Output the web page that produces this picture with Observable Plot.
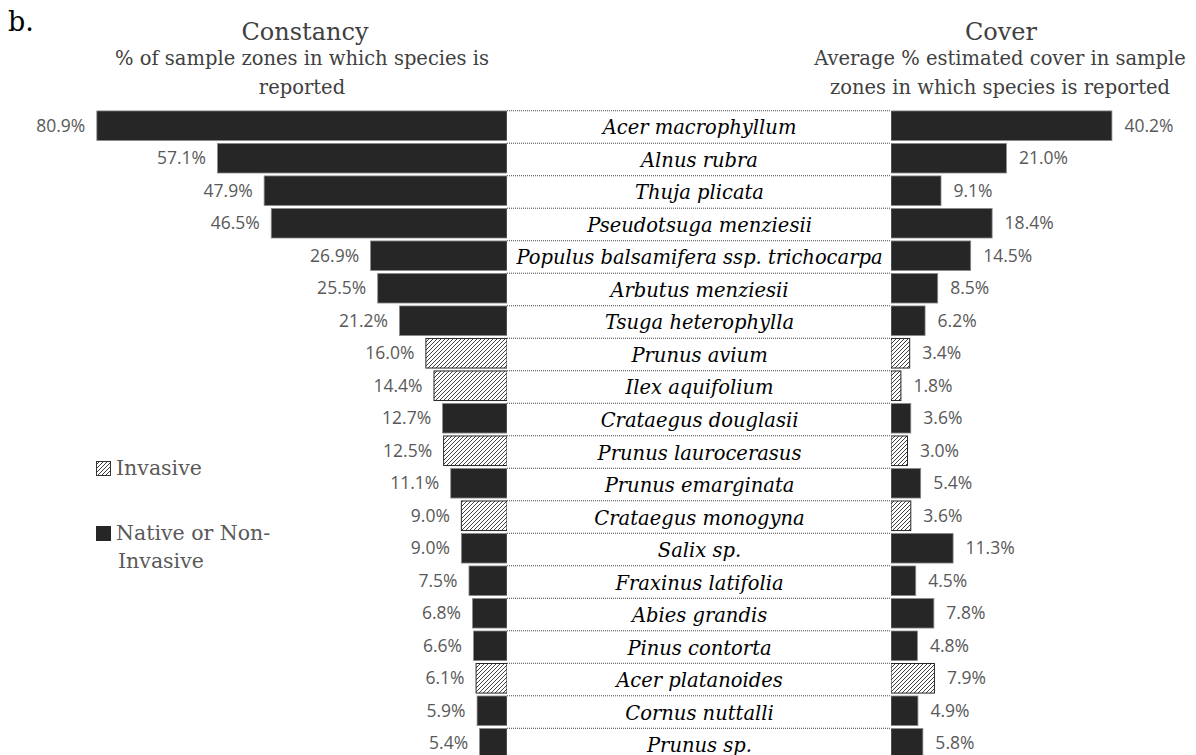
<!DOCTYPE html>
<html><head><meta charset="utf-8">
<script src="https://cdn.jsdelivr.net/npm/d3@7"></script>
<script src="https://cdn.jsdelivr.net/npm/@observablehq/plot@0.6"></script>
<style>
body{margin:0;width:1196px;height:755px;overflow:hidden;position:relative;background:#fff;}
.abs{position:absolute;}
.serif{font-family:"DejaVu Serif",serif;color:#404040;}
.ttl{font-size:24px;line-height:30px;text-align:center;white-space:nowrap;}
.sub{font-size:19.5px;line-height:29px;text-align:center;white-space:nowrap;}
.leg{font-family:"DejaVu Serif",serif;color:#595959;font-size:20.5px;line-height:28px;white-space:nowrap;}
.sw{display:inline-block;width:15px;height:15px;vertical-align:-1px;margin-right:5px;}
</style></head><body>
<svg width="0" height="0" style="position:absolute"><defs>
<pattern id="hatch" patternUnits="userSpaceOnUse" width="4" height="4">
<rect width="4" height="4" fill="#fff"/>
<path d="M-1,1 l2,-2 M0,4 l4,-4 M3,5 l2,-2" stroke="#2a2a2a" stroke-width="0.9"/>
</pattern></defs></svg>

<div class="abs serif" style="left:8px;top:2px;font-size:27px;line-height:40px;color:#000;">b.</div>
<div class="abs serif ttl" style="left:205px;width:200px;top:17px;">Constancy</div>
<div class="abs serif sub" style="left:102px;width:400px;top:44px;">% of sample zones in which species is<br>reported</div>
<div class="abs serif ttl" style="left:901px;width:200px;top:17px;">Cover</div>
<div class="abs serif sub" style="left:790px;width:420px;top:44px;">Average % estimated cover in sample<br>zones in which species is reported</div>

<div class="abs leg" style="left:96px;top:454px;"><svg class="sw" viewBox="0 0 15 15"><rect x="0.5" y="0.5" width="14" height="14" fill="url(#hatch)" stroke="#333"/></svg>Invasive</div>
<div class="abs leg" style="left:96px;top:519px;"><svg class="sw" viewBox="0 0 15 15"><rect x="0" y="0" width="15" height="15" fill="#262626"/></svg>Native or Non-<br><span style="margin-left:22px">Invasive</span></div>

<div id="left" class="abs" style="left:0;top:108px;"></div>
<div id="center" class="abs" style="left:507px;top:108px;"></div>
<div id="right" class="abs" style="left:891px;top:108px;"></div>

<script>
const species = ["Acer macrophyllum","Alnus rubra","Thuja plicata","Pseudotsuga menziesii","Populus balsamifera ssp. trichocarpa","Arbutus menziesii","Tsuga heterophylla","Prunus avium","Ilex aquifolium","Crataegus douglasii","Prunus laurocerasus","Prunus emarginata","Crataegus monogyna","Salix sp.","Fraxinus latifolia","Abies grandis","Pinus contorta","Acer platanoides","Cornus nuttalli","Prunus sp."];
const constancy = [80.9,57.1,47.9,46.5,26.9,25.5,21.2,16.0,14.4,12.7,12.5,11.1,9.0,9.0,7.5,6.8,6.6,6.1,5.9,5.4];
const cover = [40.2,21.0,9.1,18.4,14.5,8.5,6.2,3.4,1.8,3.6,3.0,5.4,3.6,11.3,4.5,7.8,4.8,7.9,4.9,5.8];
const status = ["N","N","N","N","N","N","N","I","I","N","I","N","I","N","N","N","N","I","N","N"];

const rows = species.map((s,i)=>({species:s, constancy:constancy[i], cover:cover[i], invasive:status[i]==="I"}));
const native = rows.filter(d=>!d.invasive);
const inv = rows.filter(d=>d.invasive);
const H = 653;
const yOpt = {type:"band", domain:species, axis:null, padding:0.09, round:false};
const lblFont = {fontFamily:"'Open Sans', sans-serif", fontSize:17.5, fill:"#595959"};

function bars(xField){
  return [
    Plot.barX(native,{x:xField, y:"species", fill:"#262626", stroke:"#8a8a8a", strokeWidth:0.8}),
    Plot.barX(inv,{x:xField, y:"species", fill:"url(#hatch)", stroke:"#262626", strokeWidth:1})
  ];
}

const left = Plot.plot({
  width:507, height:H, margin:0,
  x:{domain:[0,100], reverse:true, axis:null},
  y:yOpt,
  marks:[
    ...bars("constancy"),
    Plot.text(rows,{x:"constancy", y:"species", text:d=>d.constancy.toFixed(1)+"%", textAnchor:"end", dx:-12, ...lblFont})
  ]
});
document.getElementById("left").append(left);

const center = Plot.plot({
  width:384, height:H, margin:0,
  y:yOpt,
  marks:[
    Plot.ruleY(species,{y:d=>d, dy:-15.5, stroke:"#444", strokeWidth:1, strokeDasharray:"1,1"}),
    Plot.text(species,{y:d=>d, frameAnchor:"middle", dy:2, text:d=>d, fontFamily:"'DejaVu Serif', serif", fontStyle:"italic", fontSize:19.5, fill:"#000"})
  ]
});
document.getElementById("center").append(center);

const right = Plot.plot({
  width:305, height:H, margin:0,
  x:{domain:[0,55.5], axis:null},
  y:yOpt,
  marks:[
    ...bars("cover"),
    Plot.text(rows,{x:"cover", y:"species", text:d=>d.cover.toFixed(1)+"%", textAnchor:"start", dx:12, ...lblFont})
  ]
});
document.getElementById("right").append(right);
</script>
</body></html>
